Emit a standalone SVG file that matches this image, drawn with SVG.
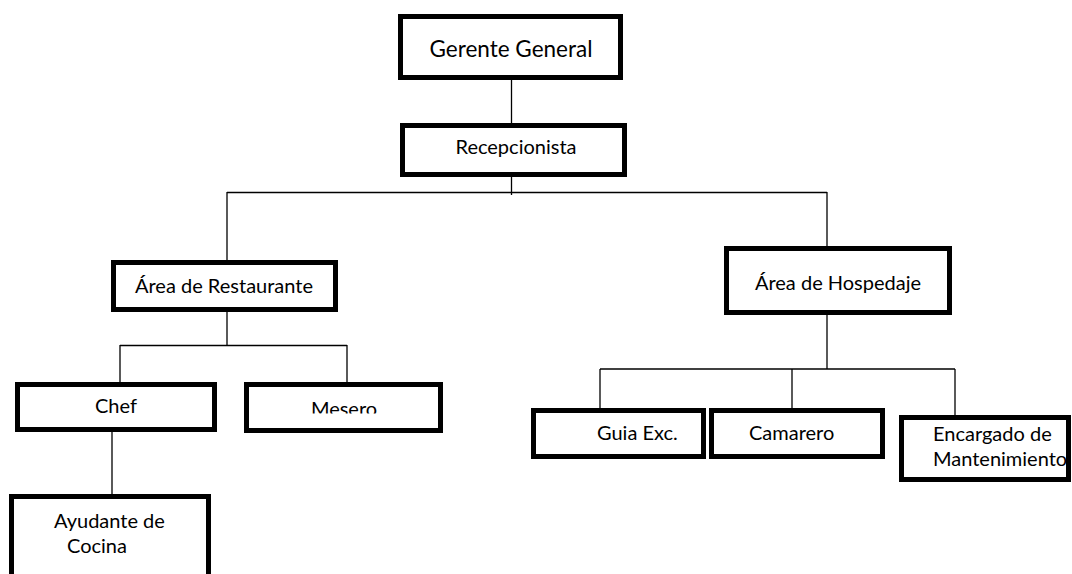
<svg xmlns="http://www.w3.org/2000/svg" width="1072" height="574" viewBox="0 0 1072 574">
<defs>
<style>
.box{fill:#fff;stroke:#000;stroke-width:5}
.t{font-family:Lato,"Liberation Sans",sans-serif;font-size:20px;fill:#000}
.c{text-anchor:middle}
.ln{stroke:#000;stroke-width:1.3;fill:none}
</style>
<clipPath id="mclip"><rect x="246" y="384" width="196" height="29.5"/></clipPath>
</defs>
<rect width="1072" height="574" fill="#fff"/>
<g id="connectors">
<line class="ln" x1="511.5" y1="80" x2="511.5" y2="123"/>
<line class="ln" x1="511.5" y1="177" x2="511.5" y2="195"/>
<line class="ln" x1="227" y1="192.5" x2="827" y2="192.5"/>
<line class="ln" x1="227" y1="192" x2="227" y2="260"/>
<line class="ln" x1="827" y1="192" x2="827" y2="246"/>
<line class="ln" x1="227" y1="312" x2="227" y2="345.5"/>
<line class="ln" x1="120" y1="345.5" x2="347" y2="345.5"/>
<line class="ln" x1="120" y1="345" x2="120" y2="382"/>
<line class="ln" x1="347" y1="345" x2="347" y2="382"/>
<line class="ln" x1="112" y1="432" x2="112" y2="494"/>
<line class="ln" x1="827" y1="312" x2="827" y2="369"/>
<line class="ln" x1="600" y1="369" x2="955" y2="369"/>
<line class="ln" x1="600" y1="369" x2="600" y2="408"/>
<line class="ln" x1="792" y1="369" x2="792" y2="408"/>
<line class="ln" x1="955" y1="369" x2="955" y2="415"/>
</g>
<g id="gerente">
<rect class="box" x="400.5" y="16.5" width="220" height="61"/>
<text class="t c" x="511" y="57" style="font-size:22.5px">Gerente General</text>
</g>
<g id="recepcionista">
<rect class="box" x="402.5" y="125.5" width="222" height="49"/>
<text class="t c" x="516" y="154">Recepcionista</text>
</g>
<g id="restaurante">
<rect class="box" x="113.5" y="262.5" width="222" height="47"/>
<text class="t c" x="224" y="293">Área de Restaurante</text>
</g>
<g id="chef">
<rect class="box" x="17.5" y="384.5" width="197" height="45"/>
<text class="t c" x="116" y="413">Chef</text>
</g>
<g id="mesero">
<rect class="box" x="246.5" y="384.5" width="194" height="46"/>
<text class="t c" x="344" y="416" clip-path="url(#mclip)">Mesero</text>
</g>
<g id="ayudante">
<rect class="box" x="11.5" y="496.5" width="197" height="100"/>
<text class="t" x="54" y="528">Ayudante de</text>
<text class="t" x="67" y="553">Cocina</text>
</g>
<g id="hospedaje">
<rect class="box" x="726.5" y="248.5" width="223" height="64"/>
<text class="t c" x="838" y="290">Área de Hospedaje</text>
</g>
<g id="guia">
<rect class="box" x="533.5" y="410.5" width="170" height="46"/>
<text class="t" x="597" y="440">Guia Exc.</text>
</g>
<g id="camarero">
<rect class="box" x="711.5" y="410.5" width="171" height="46"/>
<text class="t" x="749" y="440">Camarero</text>
</g>
<g id="encargado">
<rect class="box" x="901.5" y="417.5" width="167" height="62"/>
<text class="t" x="933" y="441">Encargado de</text>
<text class="t" x="933" y="466">Mantenimiento</text>
</g>
</svg>
